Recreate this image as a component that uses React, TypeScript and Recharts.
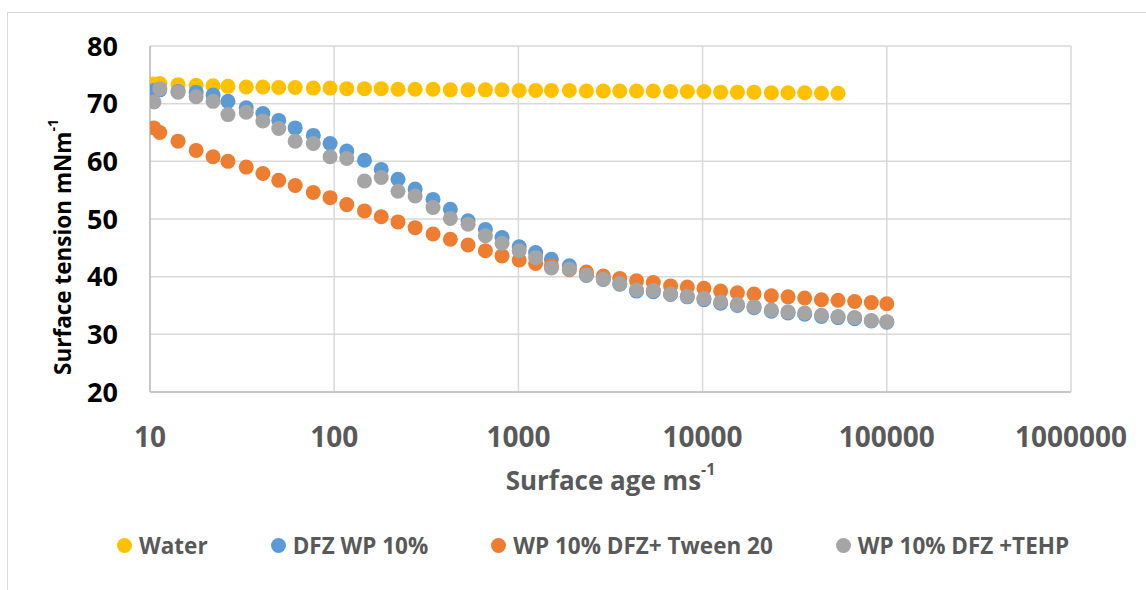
import { ScatterChart, Scatter, XAxis, YAxis, CartesianGrid } from "recharts";

// surface age (ms), shared by all series
const surfaceAge = [
  10.5, 11.3, 14.2, 17.8, 22, 26.5, 33.3, 41, 50, 61.4,
  77, 95, 117, 146, 180, 222, 275, 344, 427, 533,
  662, 815, 1010, 1240, 1510, 1890, 2340, 2890, 3550, 4380,
  5400, 6700, 8260, 10170, 12530, 15450, 19020, 23620, 29100, 35830,
  44180, 54350, 66900, 82400, 100000
];

const water = [
  73.4, 73.5, 73.3, 73.2, 73.1, 73.0, 72.9, 72.9, 72.8, 72.8,
  72.7, 72.7, 72.6, 72.6, 72.6, 72.5, 72.5, 72.5, 72.4, 72.4,
  72.4, 72.4, 72.3, 72.3, 72.3, 72.3, 72.2, 72.2, 72.2, 72.2,
  72.2, 72.1, 72.1, 72.1, 72.0, 72.0, 72.0, 71.9, 71.9, 71.9,
  71.8, 71.8
];

const dfzWp = [
  72.3, 72.4, 72.1, 72.0, 71.5, 70.4, 69.3, 68.3, 67.1, 65.8,
  64.5, 63.1, 61.8, 60.2, 58.6, 56.9, 55.2, 53.4, 51.7, 49.7,
  48.2, 46.8, 45.2, 44.2, 43.0, 41.9, 40.2, 39.5, 38.7, 37.5,
  37.4, 36.9, 36.5, 36.0, 35.4, 35.0, 34.6, 34.0, 33.7, 33.5,
  33.1, 32.9, 32.7, 32.3, 32.1
];

const tween = [
  65.8, 65.0, 63.5, 61.9, 60.8, 60.0, 59.0, 57.9, 56.7, 55.8,
  54.6, 53.7, 52.5, 51.4, 50.4, 49.5, 48.5, 47.4, 46.5, 45.5,
  44.5, 43.6, 42.9, 42.3, 41.9, 41.2, 40.8, 40.1, 39.7, 39.3,
  39.0, 38.4, 38.2, 38.0, 37.5, 37.2, 37.0, 36.7, 36.5, 36.3,
  36.0, 35.9, 35.7, 35.5, 35.3
];

const tehp = [
  70.3, 72.6, 72.0, 71.2, 70.4, 68.1, 68.5, 67.0, 65.7, 63.5,
  63.1, 60.8, 60.5, 56.6, 57.2, 54.8, 54.0, 52.0, 50.1, 49.1,
  47.1, 45.8, 44.5, 43.3, 41.5, 41.3, 40.3, 39.6, 38.8, 37.7,
  37.6, 37.0, 36.6, 36.2, 35.6, 35.2, 34.8, 34.2, 33.9, 33.7,
  33.3, 33.1, 32.9, 32.4, 32.2
];

const xTicks = [10, 100, 1000, 10000, 100000, 1000000];
const yTicks = [20, 30, 40, 50, 60, 70, 80];

const seriesNames = ["Water", "DFZ WP 10%", "WP 10% DFZ+ Tween 20", "WP 10% DFZ +TEHP"];
const seriesColors = ["#FFC000", "#5B9BD5", "#ED7D31", "#A5A5A5"];
const seriesValues = [water, dfzWp, tween, tehp];

const toPoints = (values: number[]) =>
  values.map((v, i) => ({ x: surfaceAge[i], y: v }));

const font = "'Open Sans', sans-serif";

const dot = (color: string) => (props: any) =>
  <circle cx={props.cx} cy={props.cy} r={7.5} fill={color} />;

const YTitle = (props: any) => {
  const vb = props.viewBox;
  const cx = vb.x + 62;
  const cy = vb.y + vb.height / 2 + 28;
  return (
    <text
      x={cx}
      y={cy}
      transform={`rotate(-90 ${cx} ${cy})`}
      textAnchor="middle"
      dominantBaseline="central"
      fontFamily={font}
      fontWeight={700}
      fontSize={22.5}
      fill="#000"
    >
      Surface tension mNm<tspan dy={-10} fontSize={14}>-1</tspan>
    </text>
  );
};

const XTitle = (props: any) => {
  const vb = props.viewBox;
  return (
    <text
      x={vb.x + vb.width / 2}
      y={vb.y + 88}
      textAnchor="middle"
      dominantBaseline="central"
      fontFamily={font}
      fontWeight={700}
      fontSize={26}
      fill="#595959"
    >
      Surface age ms<tspan dy={-11} fontSize={16}>-1</tspan>
    </text>
  );
};

export default function App() {
  return (
    <div style={{ position: "absolute", left: 0, top: 0, width: 1146, height: 590, background: "#fff", overflow: "hidden" }}>
      <div style={{ position: "absolute", left: 7, top: 12, right: -2, bottom: -2, border: "1.5px solid #d9d9d9" }} />
      <ScatterChart
        width={1146}
        height={590}
        margin={{ top: 46, right: 75, bottom: 138, left: 0 }}
        style={{ position: "absolute", left: 0, top: 0 }}
      >
        <CartesianGrid stroke="#d9d9d9" strokeWidth={1.5} />
        <XAxis
          type="number"
          dataKey="x"
          scale="log"
          domain={[10, 1000000]}
          ticks={xTicks}
          allowDataOverflow
          height={60}
          tickLine={false}
          tickSize={0}
          tickMargin={35}
          axisLine={{ stroke: "#bfbfbf", strokeWidth: 1.5 }}
          tick={{ fill: "#595959", fontFamily: font, fontWeight: 700, fontSize: 28 }}
          label={{ content: XTitle }}
        />
        <YAxis
          type="number"
          dataKey="y"
          domain={[20, 80]}
          ticks={yTicks}
          width={150}
          tickLine={false}
          tickSize={0}
          tickMargin={32}
          axisLine={{ stroke: "#bfbfbf", strokeWidth: 1.5 }}
          tick={{ fill: "#000", fontFamily: font, fontWeight: 700, fontSize: 27 }}
          label={{ content: YTitle }}
        />
        {seriesValues.map((vals, i) => (
          <Scatter
            key={seriesNames[i]}
            name={seriesNames[i]}
            data={toPoints(vals)}
            shape={dot(seriesColors[i])}
            isAnimationActive={false}
          />
        ))}
      </ScatterChart>
      <div
        style={{
          position: "absolute",
          left: 117,
          top: 530,
          height: 30,
          display: "flex",
          alignItems: "center",
          gap: 63,
          fontFamily: font,
          fontWeight: 700,
          fontSize: 22.5,
          color: "#595959",
          whiteSpace: "nowrap"
        }}
      >
        {seriesNames.map((name, i) => (
          <div key={name} style={{ display: "flex", alignItems: "center", gap: 7 }}>
            <span style={{ width: 15, height: 15, borderRadius: "50%", background: seriesColors[i], display: "inline-block" }} />
            <span>{name}</span>
          </div>
        ))}
      </div>
    </div>
  );
}
